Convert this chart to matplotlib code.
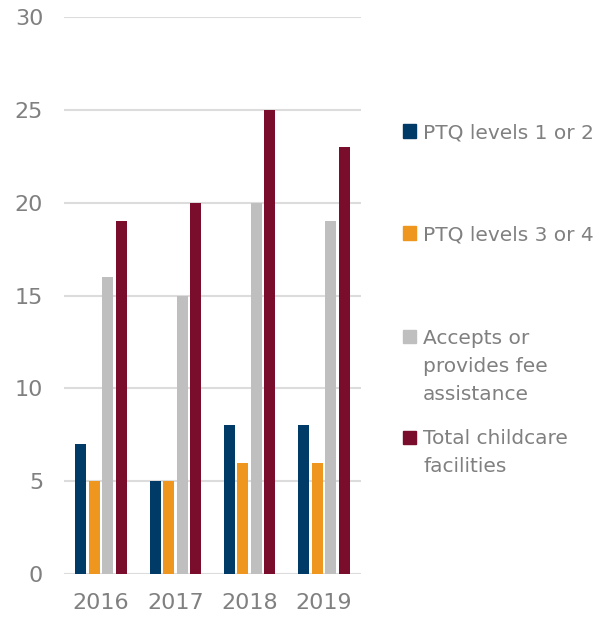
import matplotlib
matplotlib.use("Agg")
import matplotlib.pyplot as plt
import numpy as np
from matplotlib.patches import Rectangle

years = ["2016", "2017", "2018", "2019"]
series_names = ["PTQ levels 1 or 2", "PTQ levels 3 or 4",
                "Accepts or\nprovides fee\nassistance", "Total childcare\nfacilities"]
ptq12 = [7, 5, 8, 8]
ptq34 = [5, 5, 6, 6]
fee = [16, 15, 20, 19]
total = [19, 20, 25, 23]
colors = ["#003A66", "#EE961E", "#BFBFBF", "#7A0C2C"]
yticks = [0, 5, 10, 15, 20, 25, 30]

plt.rcParams['font.family'] = ['DejaVu Sans']
grey = "#808080"

fig = plt.figure(figsize=(6.07, 6.19), dpi=100)
ax = fig.add_axes([64/607, 1-574/619, 297/607, 557/619])

x = np.arange(len(years))
slot = 0.181
w = 0.148
data = [ptq12, ptq34, fee, total]
for i, (vals, c) in enumerate(zip(data, colors)):
    ax.bar(x + (i - 1.5) * slot, vals, width=w, color=c, zorder=3)

ax.set_xlim(-0.5, 3.5)
ax.set_ylim(0, 30)
ax.set_yticks(yticks)
ax.set_xticks(x)
ax.set_xticklabels(years)
ax.yaxis.grid(True, color="#DCDCDC", linewidth=1.5, zorder=0)
ax.tick_params(axis='y', length=0, pad=15, labelsize=16, labelcolor=grey)
ax.tick_params(axis='x', length=0, pad=14, labelsize=16, labelcolor=grey)
for s in ax.spines.values():
    s.set_visible(False)

# legend
leg_y = [131, 233, 337, 437]
line_h = 27.5
for name, c, yy in zip(series_names, colors, leg_y):
    fig.patches.append(Rectangle((403/607, 1-(yy+6.5)/619), 13/607, 13/619,
                                 transform=fig.transFigure, color=c, figure=fig))
    for k, line in enumerate(name.split("\n")):
        fig.text(423/607, 1-(yy + k*line_h)/619, line, ha='left', va='center_baseline',
                 fontsize=14.5, color=grey)

fig.savefig("out.png", dpi=100)
